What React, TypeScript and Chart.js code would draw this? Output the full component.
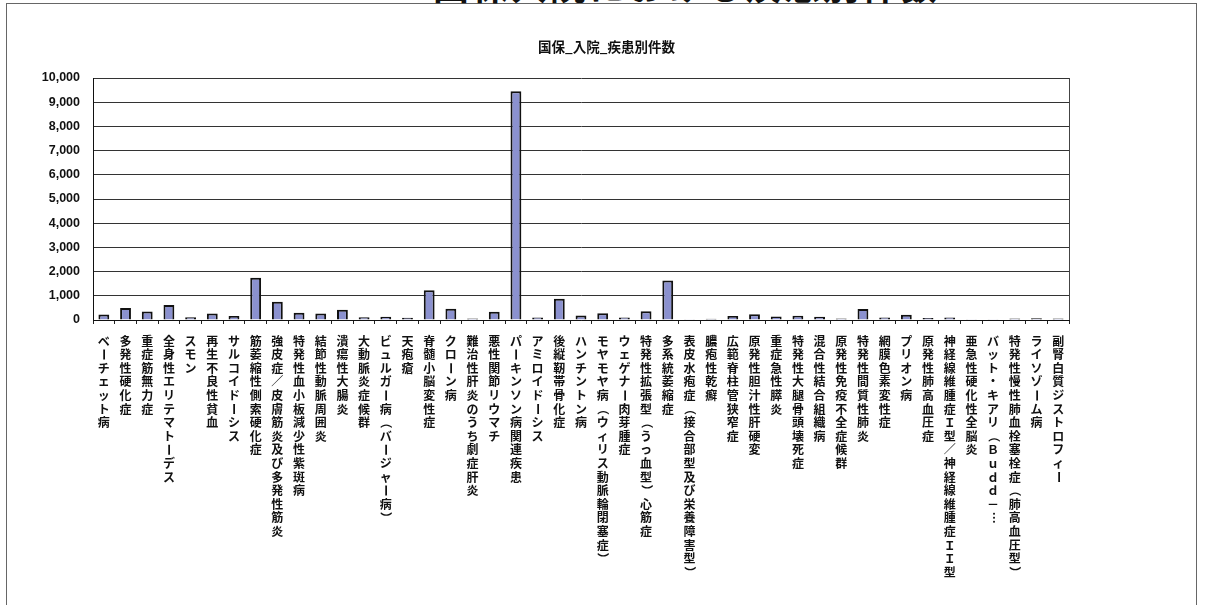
import React, { useEffect, useRef } from "react";
import { Chart, registerables } from "chart.js";

Chart.register(...registerables);

const pageHeading = "国保入院における疾患別件数";
const chartTitle = "国保_入院_疾患別件数";

const categories: string[] = [
  "ベーチェット病",
  "多発性硬化症",
  "重症筋無力症",
  "全身性エリテマトーデス",
  "スモン",
  "再生不良性貧血",
  "サルコイドーシス",
  "筋萎縮性側索硬化症",
  "強皮症／皮膚筋炎及び多発性筋炎",
  "特発性血小板減少性紫斑病",
  "結節性動脈周囲炎",
  "潰瘍性大腸炎",
  "大動脈炎症候群",
  "ビュルガー病（バージャー病）",
  "天疱瘡",
  "脊髄小脳変性症",
  "クローン病",
  "難治性肝炎のうち劇症肝炎",
  "悪性関節リウマチ",
  "パーキンソン病関連疾患",
  "アミロイドーシス",
  "後縦靭帯骨化症",
  "ハンチントン病",
  "モヤモヤ病（ウィリス動脈輪閉塞症）",
  "ウェゲナー肉芽腫症",
  "特発性拡張型（うっ血型）心筋症",
  "多系統萎縮症",
  "表皮水疱症（接合部型及び栄養障害型）",
  "膿疱性乾癬",
  "広範脊柱管狭窄症",
  "原発性胆汁性肝硬変",
  "重症急性膵炎",
  "特発性大腿骨頭壊死症",
  "混合性結合組織病",
  "原発性免疫不全症候群",
  "特発性間質性肺炎",
  "網膜色素変性症",
  "プリオン病",
  "原発性肺高血圧症",
  "神経線維腫症Ｉ型／神経線維腫症ＩＩ型",
  "亜急性硬化性全脳炎",
  "バット・キアリ（Ｂｕｄｄ－…",
  "特発性慢性肺血栓塞栓症（肺高血圧型）",
  "ライソゾーム病",
  "副腎白質ジストロフィー",
];

const counts: number[] = [
  230, 500, 350, 620, 110, 270, 170, 1750, 750, 300, 270, 420, 110, 130, 90,
  1230, 460, 60, 340, 9450, 100, 880, 190, 280, 100, 360, 1630, 10, 50, 170,
  240, 140, 180, 130, 60, 450, 100, 220, 80, 100, 10, 10, 60, 70, 60,
];

const yTicks: number[] = [0, 1000, 2000, 3000, 4000, 5000, 6000, 7000, 8000, 9000, 10000];

const ROTATED = new Set(["ー", "（", "）", "…", "〜"]);

const verticalLabels = {
  id: "verticalLabels",
  afterDraw(chart: any) {
    const ctx = chart.ctx;
    const xs = chart.scales.x;
    const top = chart.chartArea.bottom + 21;
    const step = 13.6;
    ctx.save();
    ctx.font = 'bold 12px "Noto Sans CJK JP"';
    ctx.fillStyle = "#111";
    ctx.textAlign = "center";
    ctx.textBaseline = "middle";
    categories.forEach((label, i) => {
      const x = xs.getPixelForValue(i);
      Array.from(label).forEach((ch, k) => {
        const y = top + k * step;
        if (ROTATED.has(ch)) {
          ctx.save();
          ctx.translate(x, y);
          ctx.rotate(Math.PI / 2);
          ctx.fillText(ch, 0, 0);
          ctx.restore();
        } else {
          ctx.fillText(ch, x, y);
        }
      });
    });
    const a = chart.chartArea;
    ctx.strokeStyle = "#444";
    ctx.lineWidth = 1;
    ctx.beginPath();
    ctx.moveTo(Math.round(a.right) + 0.5, a.top);
    ctx.lineTo(Math.round(a.right) + 0.5, a.bottom);
    ctx.stroke();
    ctx.restore();
  },
};

export default function App() {
  const ref = useRef<HTMLCanvasElement | null>(null);

  useEffect(() => {
    if (!ref.current) return;
    const chart = new Chart(ref.current, {
      type: "bar",
      data: {
        labels: categories,
        datasets: [
          {
            data: counts,
            backgroundColor: "#8b91cf",
            borderColor: "#111",
            borderWidth: 2,
            barPercentage: 0.5,
            categoryPercentage: 1,
          },
        ],
      },
      options: {
        responsive: false,
        animation: false,
        layout: { padding: { top: 0, left: 10, right: 0, bottom: 0 } },
        plugins: {
          legend: { display: false },
          tooltip: { enabled: false },
          title: {
            display: true,
            text: chartTitle,
            color: "#111",
            font: { size: 13.5, weight: "bold", family: '"Noto Sans CJK JP"' },
            padding: { top: 35, bottom: 22.8 },
          },
        },
        scales: {
          x: {
            afterFit: (s: any) => {
              s.height = 285;
            },
            ticks: { display: false },
            grid: {
              display: true,
              drawOnChartArea: false,
              drawTicks: true,
              tickLength: 4,
              color: "#222",
              offset: true,
            },
            border: { display: true, color: "#111", width: 1 },
          },
          y: {
            min: 0,
            max: 10000,
            afterFit: (s: any) => {
              s.width = 76;
            },
            afterBuildTicks: (s: any) => {
              s.ticks = yTicks.map((v) => ({ value: v }));
            },
            ticks: {
              padding: 13,
              color: "#111",
              font: { size: 12.5, weight: "bold", family: '"Liberation Sans", Arial' },
              callback: (v: any) => Number(v).toLocaleString("en-US"),
            },
            grid: { color: "#333", lineWidth: 1, drawTicks: false },
            border: { display: true, color: "#111", width: 1 },
          },
          yR: {
            position: "right",
            display: true,
            min: 0,
            max: 10000,
            afterFit: (s: any) => {
              s.width = 127;
            },
            ticks: { display: false },
            grid: { display: false },
            border: { display: false },
          },
        },
      },
      plugins: [verticalLabels],
    });
    return () => chart.destroy();
  }, []);

  return (
    <div
      style={{
        position: "absolute",
        left: 0,
        top: 0,
        width: 1205,
        height: 605,
        overflow: "hidden",
        background: "#fff",
      }}
    >
      <div
        style={{
          position: "absolute",
          left: 6,
          top: 3,
          width: 1191,
          height: 640,
          border: "1px solid #666",
          boxSizing: "border-box",
        }}
      />
      <div
        style={{
          position: "absolute",
          left: 433,
          top: -34,
          fontSize: 36,
          lineHeight: "36px",
          fontWeight: "bold",
          letterSpacing: 3,
          whiteSpace: "nowrap",
          fontFamily: '"Noto Sans CJK JP"',
          color: "#111",
        }}
      >
        {pageHeading}
      </div>
      <canvas
        ref={ref}
        width={1189}
        height={601}
        style={{ position: "absolute", left: 7, top: 4, width: 1189, height: 601 }}
      />
    </div>
  );
}
